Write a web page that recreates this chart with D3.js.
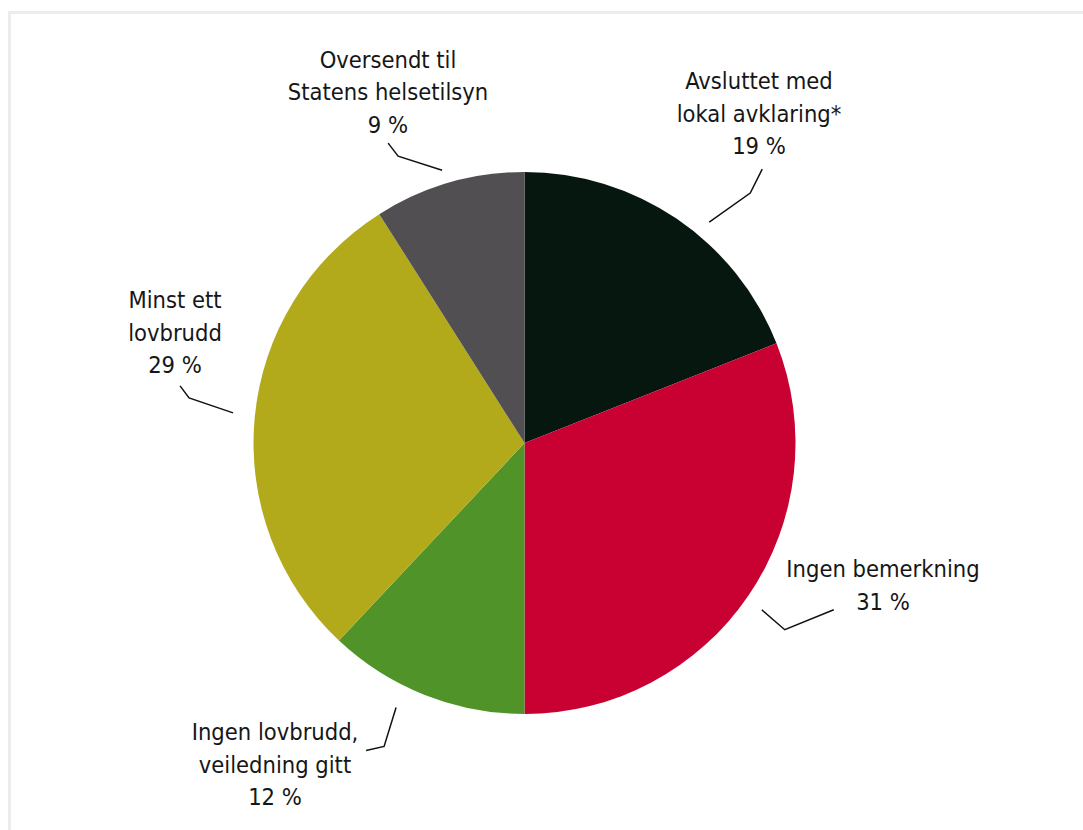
<!DOCTYPE html>
<html>
<head>
<meta charset="utf-8">
<script src="https://cdn.jsdelivr.net/npm/d3@7"></script>
<style>
  html, body { margin: 0; padding: 0; background: #fff; }
  svg { display: block; }
  .lbl { font-family: "DejaVu Sans Condensed", "Liberation Sans Narrow", sans-serif; font-size: 23.5px; fill: #161616; }
</style>
</head>
<body>
<svg id="chart" width="1083" height="830"></svg>
<script>
// Outcome of cases, share of total (%)
const categories = [
  ["Avsluttet med", "lokal avklaring*"],
  ["Ingen bemerkning"],
  ["Ingen lovbrudd,", "veiledning gitt"],
  ["Minst ett", "lovbrudd"],
  ["Oversendt til", "Statens helsetilsyn"]
];
const values = [19, 31, 12, 29, 9];
const colors = ["#06170f", "#c90032", "#4f9329", "#b2aa1a", "#524f52"];

// Label placement: anchor of the leader line (angle nudge in degrees, radius),
// elbow and end offsets from that anchor, and text block centre / first baseline.
const leaderAnchor = [[5.7, 288], [0.9, 290], [4.3, 294], [0.5, 293], [-0.6, 285]];
const leaderElbow  = [[41, -29], [23, 20], [-12, 39], [-44, -15], [-44, -14]];
const leaderEnd    = [[53, -53], [72, 0], [-30, 43], [-53, -27], [-54, -27]];
const labelPos     = [[759, 89], [883, 577], [275, 740], [175, 308], [388, 67.5]];

const W = 1083, H = 830;
const cx = 524.5, cy = 443, R = 271;
const lineH = 32.5;

const svg = d3.select("#chart");

// light frame around the figure
svg.append("rect")
  .attr("x", 9.5).attr("y", 12.5)
  .attr("width", W + 20).attr("height", H + 20)
  .attr("fill", "none").attr("stroke", "#ececec").attr("stroke-width", 3);

const pie = d3.pie().sort(null).value(d => d)(values);
const arc = d3.arc().innerRadius(0).outerRadius(R);

const g = svg.append("g").attr("transform", `translate(${cx},${cy})`);

g.selectAll("path.slice")
  .data(pie)
  .join("path")
  .attr("class", "slice")
  .attr("d", arc)
  .attr("fill", (d, i) => colors[i]);

// leader lines
const polar = (angDeg, r) => {
  const a = angDeg * Math.PI / 180;
  return [r * Math.sin(a), -r * Math.cos(a)];
};
const lineGen = d3.line();
g.selectAll("path.leader")
  .data(pie)
  .join("path")
  .attr("class", "leader")
  .attr("d", (d, i) => {
    const mid = (d.startAngle + d.endAngle) / 2 * 180 / Math.PI;
    const p0 = polar(mid + leaderAnchor[i][0], leaderAnchor[i][1]);
    const p1 = [p0[0] + leaderElbow[i][0], p0[1] + leaderElbow[i][1]];
    const p2 = [p0[0] + leaderEnd[i][0], p0[1] + leaderEnd[i][1]];
    return lineGen([p0, p1, p2]);
  })
  .attr("fill", "none")
  .attr("stroke", "#111")
  .attr("stroke-width", 1.5);

// labels: category lines followed by the percentage
const labels = svg.selectAll("text.lbl")
  .data(pie)
  .join("text")
  .attr("class", "lbl")
  .attr("text-anchor", "middle");

labels.each(function(d, i) {
  const t = d3.select(this);
  const lines = categories[i].concat([d.data + " %"]);
  lines.forEach((s, k) => {
    t.append("tspan")
      .attr("x", labelPos[i][0])
      .attr("y", labelPos[i][1] + k * lineH)
      .text(s);
  });
});
</script>
</body>
</html>
